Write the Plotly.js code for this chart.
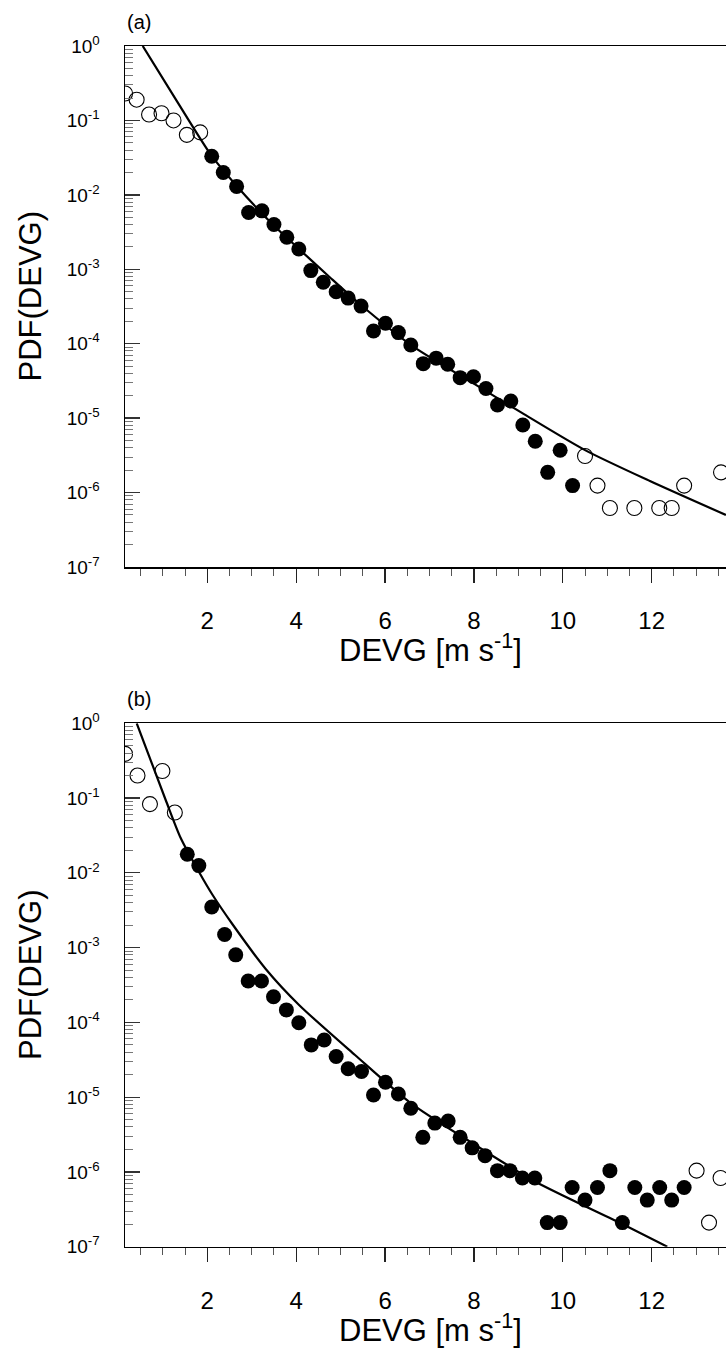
<!DOCTYPE html>
<html><head><meta charset="utf-8">
<script src="https://cdn.plot.ly/plotly-3.0.1.min.js"></script>
<style>html,body{margin:0;padding:0;background:#fff;}#chart{width:726px;height:1357px;}</style>
</head><body><div id="chart"></div>
<script>
// ---- Panel (a) data ----
const aOpenX = [0.15,0.41,0.69,0.97,1.24,1.54,1.84,10.50,10.78,11.06,11.61,12.17,12.45,12.73,13.56];
const aOpenY = [0.23,0.19,0.12,0.125,0.10,0.064,0.069,3.1e-6,1.24e-6,6.2e-7,6.2e-7,6.2e-7,6.2e-7,1.24e-6,1.87e-6];
const aFilledX = [2.10,2.36,2.66,2.93,3.23,3.50,3.79,4.06,4.33,4.61,4.90,5.17,5.46,5.74,6.01,6.30,6.58,6.86,7.15,7.41,7.69,7.99,8.27,8.53,8.83,9.10,9.38,9.66,9.94,10.22];
const aFilledY = [0.033,0.020,0.013,0.0058,0.0061,0.0040,0.0027,0.00187,0.00096,0.00067,0.0005,0.00041,0.00032,0.000148,0.000188,0.000141,9.6e-5,5.4e-5,6.4e-5,5.3e-5,3.5e-5,3.6e-5,2.5e-5,1.5e-5,1.7e-5,8.1e-6,4.9e-6,1.87e-6,3.7e-6,1.24e-6];
const aFitX = [0.547,1.274,2.10,2.662,3.486,4.064,4.762,5.437,6.585,7.98,9.08,10.50,11.96,13.67];
const aFitY = [1,0.1995,0.0333,0.01315,0.00394,0.001875,7.76e-4,3.39e-4,9.6e-5,2.95e-5,1.175e-5,3.72e-6,1.43e-6,5.0e-7];

// ---- Panel (b) data ----
const bOpenX = [0.15,0.43,0.71,0.99,1.27,13.01,13.29,13.55];
const bOpenY = [0.39,0.20,0.083,0.23,0.064,1.04e-6,2.1e-7,8.3e-7];
const bFilledX = [1.55,1.81,2.10,2.39,2.64,2.92,3.22,3.49,3.78,4.06,4.34,4.63,4.90,5.17,5.47,5.74,6.01,6.30,6.58,6.85,7.12,7.42,7.69,7.96,8.25,8.53,8.81,9.09,9.37,9.65,9.94,10.21,10.50,10.78,11.06,11.34,11.62,11.90,12.18,12.45,12.73];
const bFilledY = [0.0177,0.0125,0.0035,0.0015,0.00080,0.000357,0.000357,0.00022,0.000147,9.9e-5,5.0e-5,5.8e-5,3.5e-5,2.4e-5,2.2e-5,1.07e-5,1.58e-5,1.1e-5,7.1e-6,2.9e-6,4.5e-6,4.8e-6,2.9e-6,2.1e-6,1.65e-6,1.04e-6,1.04e-6,8.3e-7,8.3e-7,2.1e-7,2.1e-7,6.2e-7,4.2e-7,6.2e-7,1.04e-6,2.1e-7,6.2e-7,4.2e-7,6.2e-7,4.2e-7,6.2e-7];
const bFitX = [0.412,1.064,1.402,1.814,2.113,2.563,3.315,4.065,5.324,6.577,7.963,9.374,11.339,12.351];
const bFitY = [1,0.0942,0.0292,0.01026,0.00513,0.00207,5.18e-4,1.71e-4,3.66e-5,8.34e-6,2.43e-6,7.46e-7,2.01e-7,1.0e-7];

// ---- tick labels ----
const yTickVals = [1e-7,1e-6,1e-5,1e-4,1e-3,1e-2,1e-1,1];
const yTickText = ['10<sup>-7</sup>','10<sup>-6</sup>','10<sup>-5</sup>','10<sup>-4</sup>','10<sup>-3</sup>','10<sup>-2</sup>','10<sup>-1</sup>','10<sup>0</sup>'];
const xTickVals = [2,4,6,8,10,12];
const xTickText = ['2','4','6','8','10','12'];
const panelLabels = ['(a)','(b)'];
const xTitle = 'DEVG [m s<sup>-1</sup>]';
const yTitle = 'PDF(DEVG)';

const W = 726, H = 1357, L = 125;
const FONT = 'Liberation Sans';
const minorY = [];
for (let e = -7; e < 0; e++) for (let m = 2; m <= 9; m++) minorY.push(m * Math.pow(10, e));

function px(x){ return (x - L) / (W - L); }
function py(y){ return 1 - y / H; }

function fit(x, y, xa, ya){ return {x, y, xaxis: xa, yaxis: ya, type:'scatter', mode:'lines', line:{color:'#000', width:2.2, shape:'spline', smoothing:0.7}, hoverinfo:'skip', showlegend:false}; }
function filled(x, y, xa, ya){ return {x, y, xaxis: xa, yaxis: ya, type:'scatter', mode:'markers', marker:{symbol:'circle', size:15, color:'#000', line:{width:0}}, showlegend:false}; }
function open(x, y, xa, ya){ return {x, y, xaxis: xa, yaxis: ya, type:'scatter', mode:'markers', marker:{symbol:'circle-open', size:15, color:'#000', line:{width:1.1}}, showlegend:false}; }

const data = [
  fit(aFitX, aFitY, 'x', 'y'), filled(aFilledX, aFilledY, 'x', 'y'), open(aOpenX, aOpenY, 'x', 'y'),
  fit(bFitX, bFitY, 'x2', 'y2'), filled(bFilledX, bFilledY, 'x2', 'y2'), open(bOpenX, bOpenY, 'x2', 'y2')
];

function xAxis(anchor){
  return {anchor, domain:[0,1], range:[0.1485, 13.672], showgrid:false, zeroline:false,
    showline:true, linecolor:'#000', linewidth:1.5, mirror:true,
    tickmode:'array', tickvals:xTickVals, ticktext:xTickText, ticks:'outside', ticklen:14, tickwidth:1.3, tickcolor:'#222',
    ticklabelstandoff:18,
    minor:{dtick:0.5, tick0:0, ticks:'outside', ticklen:7, tickwidth:1, tickcolor:'#555', showgrid:false},
    tickfont:{family:FONT, size:24, color:'#000'}};
}
function yAxis(anchor, top, bottom){
  return {anchor, type:'log', domain:[py(bottom), py(top)], range:[-7, 0], showgrid:false, zeroline:false,
    showline:true, linecolor:'#000', linewidth:1.5, mirror:false,
    tickmode:'array', tickvals:yTickVals, ticktext:yTickText, ticks:'inside', ticklen:15, tickwidth:1.3, tickcolor:'#333',
    ticklabelstandoff:20,
    minor:{tickmode:'array', tickvals:minorY, ticks:'inside', ticklen:8, tickwidth:1, tickcolor:'#777', showgrid:false},
    tickfont:{family:FONT, size:19, color:'#000'}};
}

const ann = [];
const panels = [{top:46, bottom:567}, {top:723.3, bottom:1246.7}];
panels.forEach((p, i) => {
  ann.push({text: panelLabels[i], xref:'paper', yref:'paper', x:px(138.5), y:py(p.top - 24), xanchor:'center', yanchor:'middle', showarrow:false, font:{family:FONT, size:20, color:'#000'}});
  ann.push({text: yTitle, xref:'paper', yref:'paper', x:px(30), y:py((p.top + p.bottom)/2 - 10), xanchor:'center', yanchor:'middle', textangle:-90, showarrow:false, font:{family:FONT, size:31, color:'#000'}});
  ann.push({text: xTitle, xref:'paper', yref:'paper', x:px(430), y:py(p.bottom + 81), xanchor:'center', yanchor:'middle', showarrow:false, font:{family:FONT, size:31, color:'#000'}});
});

const layout = {
  width: W, height: H, margin:{l:L, r:0, t:0, b:0}, paper_bgcolor:'#fff', plot_bgcolor:'#fff',
  showlegend:false,
  xaxis: xAxis('y'), yaxis: yAxis('x', panels[0].top, panels[0].bottom),
  xaxis2: xAxis('y2'), yaxis2: yAxis('x2', panels[1].top, panels[1].bottom),
  annotations: ann
};
Plotly.newPlot('chart', data, layout, {staticPlot:true, displayModeBar:false});
</script></body></html>
